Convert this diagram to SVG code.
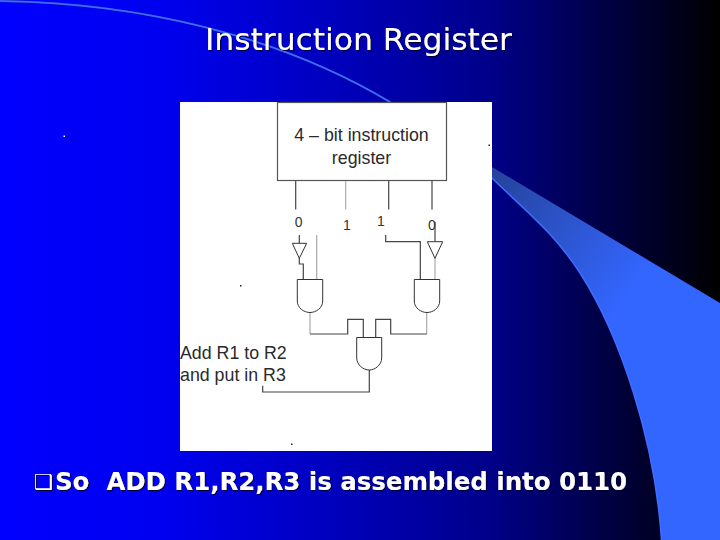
<svg xmlns="http://www.w3.org/2000/svg" width="720" height="540" viewBox="0 0 720 540">
<style>
.w{fill:none;stroke:#444;stroke-width:1.2}
.l{fill:none;stroke:#aaa;stroke-width:1.2}
.g{fill:#fff;stroke:#333;stroke-width:1}
.t{font-family:"Liberation Sans",Arial,sans-serif;font-size:17.8px;fill:#2a2a2a}
.n{font-family:"Liberation Sans",Arial,sans-serif;font-size:14px;fill:#333;text-anchor:middle}
.h{font-family:"DejaVu Sans",sans-serif;fill:#fff;filter:url(#s)}
</style>
<defs>
<linearGradient id="bg" x1="0" y1="0" x2="1" y2="0">
<stop offset="0" stop-color="#0000ff"/><stop offset=".22" stop-color="#0000f0"/><stop offset=".45" stop-color="#0000c0"/><stop offset=".68" stop-color="#00008a"/><stop offset=".86" stop-color="#00003c"/><stop offset="1" stop-color="#000000"/>
</linearGradient>
<linearGradient id="sw" gradientUnits="userSpaceOnUse" x1="490" y1="170" x2="640" y2="280">
<stop offset="0" stop-color="#254299"/><stop offset="1" stop-color="#3366ff"/>
</linearGradient>
<filter id="s" x="-5%" y="-20%" width="110%" height="140%"><feDropShadow dx="1" dy="1" stdDeviation=".3" flood-color="#000033"/></filter>
</defs>
<rect width="720" height="540" fill="url(#bg)"/>
<path d="M0,0 C140,2 280,35 390,101 L492,167 L720,303 V540 H661.5 C655,440 620,335 580,273 C553,231 522,208 492,178 L390,103 C280,37 140,4 0,2 Z" fill="url(#sw)"/>
<path d="M0,1 C140,3 280,36 390,102 L492,178 C522,208 553,231 580,273 C620,335 655,440 661.5,540" fill="none" stroke="#3f6cff" stroke-width="1.500"/>
<rect x="180" y="102" width="312" height="349" fill="#fff"/>
<g fill="#222" id="specks">
<rect x="63.500" y="135.500" width="1.500" height="1.500" fill="#fff"/>
<rect x="488.500" y="144.500" width="1.500" height="1.500"/>
<rect x="240" y="285" width="1.500" height="1.500"/>
<rect x="291" y="443.500" width="1.500" height="1.500"/>
</g>
<text class="h" x="205" y="50" font-size="30" textLength="307" lengthAdjust="spacingAndGlyphs">Instruction Register</text>
<g id="register"><rect x="277.500" y="102.500" width="169" height="78" fill="#fff" stroke="#555" stroke-width="1.200"/>
<text class="t" x="361.500" y="141" text-anchor="middle">4 – bit instruction</text>
<text class="t" x="361.500" y="163.500" text-anchor="middle">register</text></g>
<g id="connectors">
<path class="w" d="M295.700,181V209.500"/><path class="l" d="M345.700,181V209.500"/><path class="w" d="M388.700,181V209.500"/><path class="w" d="M432,181V209.500"/>
<path class="w" d="M299.300,235V243M299.300,258V264H303.300V279.500"/><path class="l" d="M316.700,235V279.500"/>
<path class="w" d="M385.700,235V241.700H420.300V279.500"/><path class="w" d="M435,221.700V241.700"/><path class="l" d="M435,258V279.500"/>
<path class="l" d="M310,312.500V334"/><path class="w" d="M310,334H347.700V319.300H363.300V337.500"/>
<path class="l" d="M426.700,312.500V334"/><path class="w" d="M426.700,334H390.700V319.300H375.700V337.500"/>
<path class="w" d="M369.300,370V392H262.700V385.700"/>
</g>
<g id="bit0"><text class="n" x="298.700" y="226.500">0</text></g>
<g id="bit1"><text class="n" x="347" y="229.500">1</text></g>
<g id="bit2"><text class="n" x="381" y="225.500">1</text></g>
<g id="bit3"><text class="n" x="432" y="229.500">0</text></g>
<g id="inv-left"><path class="g" d="M292.300,243.300H306.700L299.300,258.300Z"/></g>
<g id="inv-right"><path class="g" d="M427.300,241.700H442.700L435,258.300Z"/></g>
<g id="and-left"><path class="g" d="M297.300,279.500H322.700V301C322.700,308 316,312.500 310,312.500C304,312.500 297.300,308 297.300,301Z"/></g>
<g id="and-right"><path class="g" d="M414.300,279.500H439.700V301C439.700,308 433,312.500 427,312.500C421,312.500 414.300,308 414.300,301Z"/></g>
<g id="and-bottom"><path class="g" d="M356.700,337.500H381.700V358C381.700,365 375,370 369.200,370C363.400,370 356.700,365 356.700,358Z"/></g>
<g id="caption"><text class="t" x="180" y="359">Add R1 to R2</text><text class="t" x="180" y="381">and put in R3</text></g>
<g id="footer">
<text class="h" x="34" y="489" font-size="21">❑</text>
<text class="h" x="55" y="490" font-size="25" font-weight="bold" textLength="572" lengthAdjust="spacingAndGlyphs" xml:space="preserve">So  ADD R1,R2,R3 is assembled into 0110</text>
</g>
</svg>
